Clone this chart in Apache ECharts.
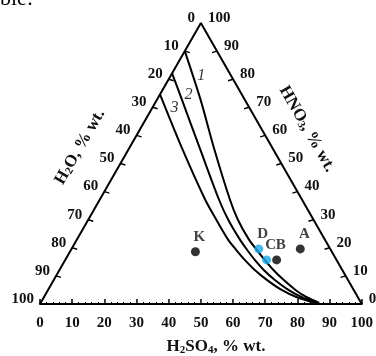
<!DOCTYPE html>
<html><head><meta charset="utf-8">
<script src="https://cdn.jsdelivr.net/npm/echarts@6/dist/echarts.min.js"></script>
<style>html,body{margin:0;padding:0;background:#fff}#c{width:376px;height:356px}</style>
</head><body><div id="c"></div>
<script>
// Tick labels (percent, wt.)
const tickValues = [0,10,20,30,40,50,60,70,80,90,100];
// Curves: compositions, H2SO4 % and HNO3 % (rest is H2O)
const curve1H2SO4 = [0, 13.4, 26.7, 40.5, 46.5, 53.5, 57.7, 62.0, 66.5, 71.4, 76.9, 81.5, 86.6];
const curve1HNO3  = [90, 72.9, 55.0, 37.1, 30.0, 22.9, 19.3, 15.7, 12.1, 8.6, 5.0, 2.5, 0.4];
const curve2H2SO4 = [0, 7.6, 22.3, 37.1, 43.5, 50.7, 54.7, 58.9, 63.5, 68.6, 74.7, 80.0, 86.0];
const curve2HNO3  = [82.1, 72.9, 55.0, 37.1, 30.0, 22.9, 19.3, 15.7, 12.1, 8.6, 5.0, 2.5, 0.4];
const curve3H2SO4 = [0, 16.8, 32.8, 39.8, 47.0, 51.3, 55.8, 60.7, 66.2, 72.6, 78.4, 85.4];
const curve3HNO3  = [74.6, 55.0, 37.1, 30.0, 22.9, 19.3, 15.7, 12.1, 8.6, 5.0, 2.5, 0.4];
const curveNames = ['1','2','3'];
const curveLabelH2SO4 = [9.6, 9.0, 6.8];
const curveLabelHNO3  = [81.1, 74.3, 70.0];
// Experimental points
const blackNames = ['K','B','A'];
const blackH2SO4 = [39.0, 65.7, 71.1];
const blackHNO3  = [18.6, 15.7, 19.6];
const blueNames = ['D','C'];
const blueH2SO4 = [58.2, 62.6];
const blueHNO3  = [19.6, 15.7];

const S = Math.sqrt(3)/2;
const toXY = (s, n) => [s + n/2, n*S];
const curveData = (sa, na) => sa.map((s,i) => toXY(s, na[i]));
const FONT = 'Liberation Serif';

const chart = echarts.init(document.getElementById('c'), null, {renderer:'canvas'});

function edgeRender(side){
  return function(params, api){
    const v = api.value(0);
    let p, children = [];
    if (side === 'left') {
      const n = 100 - v;
      p = api.coord([n/2, n*S]);
      if (v > 0 && v < 100) children.push({type:'line', shape:{x1:p[0], y1:p[1], x2:p[0]+5, y2:p[1]+1.5}, style:{stroke:'#000', lineWidth:1.5}});
      children.push({type:'text', x:p[0]-6, y:p[1]-5, style:{text:String(v), fill:'#111', fontFamily:FONT, fontWeight:'bold', fontSize:15, align:'right', verticalAlign:'middle'}});
    } else {
      const n = v;
      p = api.coord([100 - n/2, n*S]);
      if (v > 0 && v < 100) children.push({type:'line', shape:{x1:p[0], y1:p[1], x2:p[0]-5, y2:p[1]+1.5}, style:{stroke:'#000', lineWidth:1.5}});
      children.push({type:'text', x:p[0]+7, y:p[1]-5, style:{text:String(v), fill:'#111', fontFamily:FONT, fontWeight:'bold', fontSize:15, align:'left', verticalAlign:'middle'}});
    }
    return {type:'group', children};
  };
}

const curveStyle = {color:'#000', width:2};
const labelStyle = {show:true, position:'top', distance:3, offset:[4,0], color:'#111', fontFamily:FONT, fontWeight:'bold', fontSize:15};
const titleRich = {a:{fontFamily:FONT, fontWeight:'bold', fontSize:17, fill:'#111'}, s:{fontFamily:FONT, fontWeight:'bold', fontSize:11, fill:'#111', verticalAlign:'bottom'}};

const option = {
  animation:false,
  backgroundColor:'#fff',
  grid:{left:40, top:23, width:325, height:281},
  xAxis:{type:'value', min:0, max:100, interval:10,
    axisLine:{show:true, lineStyle:{color:'#000', width:2}},
    axisTick:{show:true, inside:true, length:5, lineStyle:{color:'#000', width:1.5}},
    minorTick:{show:true, splitNumber:5, length:2, lineStyle:{color:'#000', width:1}},
    axisLabel:{color:'#111', fontFamily:FONT, fontWeight:'bold', fontSize:15, margin:12},
    splitLine:{show:false}},
  yAxis:{type:'value', min:0, max:100*S, show:false, splitLine:{show:false}},
  graphic:[
    {type:'text', x:0, y:-12, style:{text:'ble:', fill:'#000', fontFamily:FONT, fontSize:22}},
    {type:'text', x:216, y:347, style:{text:'{a|H}{s|2}{a|SO}{s|4}{a|, % wt.}', align:'center', verticalAlign:'middle', rich:titleRich}},
    {type:'text', x:80, y:147, rotation:Math.PI/3, style:{text:'{a|H}{s|2}{a|O, % wt.}', align:'center', verticalAlign:'middle', rich:titleRich}},
    {type:'text', x:307, y:129, rotation:-Math.PI/3, style:{text:'{a|HNO}{s|3}{a|, % wt.}', align:'center', verticalAlign:'middle', rich:titleRich}}
  ],
  series:[
    {type:'line', data:[toXY(0,0), toXY(0,100), toXY(100,0)], symbol:'none', lineStyle:{color:'#000', width:2}, z:3},
    {type:'line', data:curveData(curve1H2SO4, curve1HNO3), smooth:0.3, symbol:'none', lineStyle:curveStyle},
    {type:'line', data:curveData(curve2H2SO4, curve2HNO3), smooth:0.3, symbol:'none', lineStyle:curveStyle},
    {type:'line', data:curveData(curve3H2SO4, curve3HNO3), smooth:0.3, symbol:'none', lineStyle:curveStyle},
    {type:'scatter', symbolSize:0, data:curveNames.map((t,i)=>({name:t, value:toXY(curveLabelH2SO4[i], curveLabelHNO3[i])})),
      label:{show:true, position:'inside', formatter:'{b}', color:'#000', fontFamily:FONT, fontStyle:'italic', fontSize:16}},
    {type:'scatter', symbolSize:9, itemStyle:{color:'#000'}, data:blackNames.map((t,i)=>({name:t, value:toXY(blackH2SO4[i], blackHNO3[i])})),
      label:Object.assign({formatter:'{b}'}, labelStyle), z:5},
    {type:'scatter', symbolSize:9, itemStyle:{color:'#1aa7e8'}, data:blueNames.map((t,i)=>({name:t, value:toXY(blueH2SO4[i], blueHNO3[i])})),
      label:Object.assign({formatter:'{b}'}, labelStyle), z:5},
    {type:'custom', coordinateSystem:'cartesian2d', data:tickValues.map(v=>[v,0]), encode:{x:0,y:1}, renderItem:edgeRender('left'), z:4},
    {type:'custom', coordinateSystem:'cartesian2d', data:tickValues.map(v=>[v,0]), encode:{x:0,y:1}, renderItem:edgeRender('right'), z:4}
  ]
};
chart.setOption(option);
</script></body></html>
